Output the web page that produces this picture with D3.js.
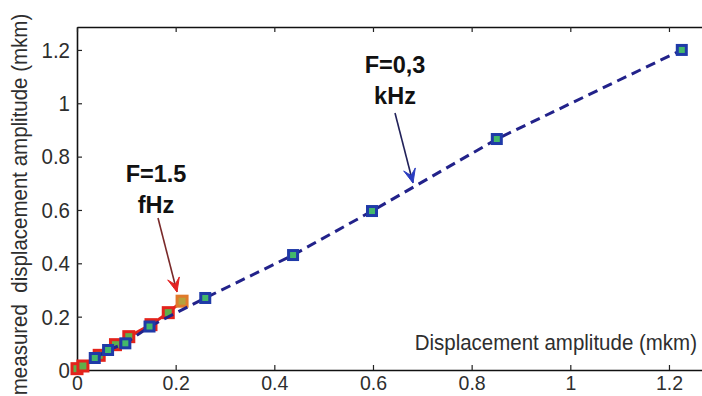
<!DOCTYPE html>
<html><head><meta charset="utf-8">
<script src="https://cdn.jsdelivr.net/npm/d3@7"></script>
<style>
html,body{margin:0;padding:0;background:#fff;overflow:hidden}
text{font-family:"Liberation Sans",Arial,sans-serif}
</style></head>
<body>
<svg id="c" width="702" height="396"></svg>
<script>
// Series F=0,3 kHz (blue, dashed)
const blueX = [0.036, 0.063, 0.098, 0.147, 0.260, 0.438, 0.598, 0.851, 1.226];
const blueY = [0.045, 0.075, 0.100, 0.163, 0.270, 0.431, 0.596, 0.866, 1.200];
// Series F=1.5 fHz (red, solid)
const redX = [0.000, 0.012, 0.045, 0.078, 0.105, 0.150, 0.185, 0.213];
const redY = [0.005, 0.015, 0.055, 0.095, 0.125, 0.170, 0.215, 0.258];
// Tick values
const xTicks = [0, 0.2, 0.4, 0.6, 0.8, 1, 1.2];
const yTicks = [0, 0.2, 0.4, 0.6, 0.8, 1, 1.2];
const xDomain = [0, 1.3];
const yDomain = [0, 1.286];
// Texts
const yLabel = "measured  displacement amplitude (mkm)";
const xLabel = "Displacement amplitude (mkm)";
const annRed = ["F=1.5", "fHz"];
const annBlue = ["F=0,3", "kHz"];

const svg = d3.select("#c");
const L = 77, T = 27, B = 370, R = 718.3;
const K = 1.12; // vertical glyph stretch
const FS = 20.5;
const x = d3.scaleLinear(xDomain, [L, R]);
const y = d3.scaleLinear(yDomain, [B, T]);
const fmt = d3.format("~g");

// axes
const gL = svg.append("g").attr("transform", `translate(${L},0)`)
  .call(d3.axisLeft(y).tickValues(yTicks).tickFormat(fmt).tickSizeInner(-5).tickSizeOuter(0).tickPadding(7));
const gB = svg.append("g").attr("transform", `translate(0,${B})`)
  .call(d3.axisBottom(x).tickValues(xTicks).tickFormat(fmt).tickSizeInner(-5).tickSizeOuter(0).tickPadding(6));
const gT = svg.append("g").attr("transform", `translate(0,${T})`)
  .call(d3.axisTop(x).tickValues(xTicks).tickFormat("").tickSizeInner(-5).tickSizeOuter(0));
[gL, gB, gT].forEach(g => {
  g.attr("font-size", FS).attr("font-family", '"Liberation Sans",Arial,sans-serif');
  g.selectAll("path.domain").attr("stroke", "#111").attr("stroke-width", 1.6);
  g.selectAll(".tick line").attr("stroke", "#222").attr("stroke-width", 1.2);
  g.selectAll(".tick text").attr("fill", "#2e2e2e");
});
gL.selectAll(".tick text").attr("transform", `scale(1,${K})`);
gB.selectAll(".tick text").attr("dy", "0.72em").attr("font-size", 19.5);

// labels
svg.append("text").attr("transform", `translate(27,${(T + B) / 2 + 6}) rotate(-90) scale(1,${K})`)
  .attr("text-anchor", "middle").attr("font-size", FS).attr("fill", "#2e2e2e")
  .style("white-space", "pre").text(yLabel);
svg.append("text").attr("transform", `translate(697,350) scale(1,${K})`).attr("text-anchor", "end")
  .attr("font-size", FS).attr("fill", "#2e2e2e").text(xLabel);

const redPts = redX.map((v, i) => [v, redY[i]]);
const bluePts = blueX.map((v, i) => [v, blueY[i]]);
const line = d3.line().x(d => x(d[0])).y(d => y(d[1]));

// red series
svg.append("path").attr("d", line(redPts)).attr("fill", "none")
  .attr("stroke", "#e3231c").attr("stroke-width", 3);
svg.selectAll("rect.red").data(redPts).join("rect").attr("class", "red")
  .attr("x", d => x(d[0]) - 5).attr("y", d => y(d[1]) - 5).attr("width", 10).attr("height", 10)
  .attr("fill", (d, i) => i === redPts.length - 1 ? "#b6a13c" : "#5fb04a")
  .attr("stroke", (d, i) => i === redPts.length - 1 ? "#e07a2a" : "#e3231c").attr("stroke-width", 3);

// blue series
svg.append("path").attr("d", line(bluePts)).attr("fill", "none")
  .attr("stroke", "#22228a").attr("stroke-width", 3).attr("stroke-dasharray", "10,6");
svg.selectAll("rect.blue").data(bluePts).join("rect").attr("class", "blue")
  .attr("x", d => x(d[0]) - 4.5).attr("y", d => y(d[1]) - 4.5).attr("width", 9).attr("height", 9)
  .attr("fill", "#43b86a").attr("stroke", "#1f3aa8").attr("stroke-width", 3);

// arrows
function arrow(x1, y1, x2, y2, lineCol, headCol) {
  svg.append("line").attr("x1", x1).attr("y1", y1).attr("x2", x2).attr("y2", y2)
    .attr("stroke", lineCol).attr("stroke-width", 1.6);
  const a = Math.atan2(y2 - y1, x2 - x1), len = 14, w = 6;
  const bx = x2 - len * Math.cos(a), by = y2 - len * Math.sin(a);
  const px = -Math.sin(a) * w, py = Math.cos(a) * w;
  svg.append("path").attr("d", `M${x2},${y2}L${bx + px},${by + py}L${bx + 0.45 * len * Math.cos(a)},${by + 0.45 * len * Math.sin(a)}L${bx - px},${by - py}Z`)
    .attr("fill", headCol).attr("stroke", headCol).attr("stroke-width", 1);
}
arrow(158, 218, 177, 292, "#7a2a2a", "#e42222");
arrow(395, 113, 413, 183, "#22225a", "#2a3cc0");

// annotation texts
function ann(lines, cx, y0) {
  lines.forEach((t, i) => svg.append("text").attr("x", cx).attr("y", y0 + i * 31)
    .attr("text-anchor", "middle").attr("font-size", 23.5).attr("font-weight", "bold")
    .attr("fill", "#111").text(t));
}
ann(annRed, 156, 182);
ann(annBlue, 395, 73);
</script>
</body></html>
